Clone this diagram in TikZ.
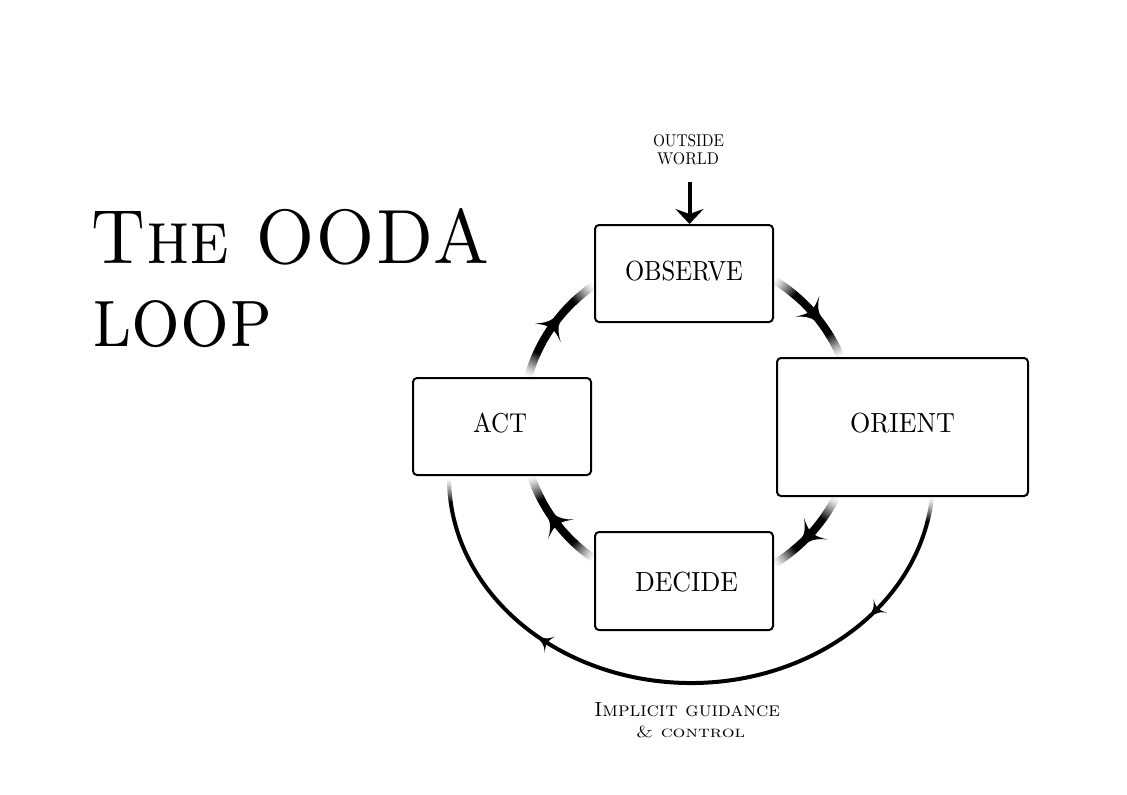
\documentclass[tikz,border=0pt]{standalone}
\usepackage{graphicx}
\usetikzlibrary{arrows.meta}
\newcommand\fadearc[6]{%
  \foreach \k in {0,...,15}{%
    \pgfmathsetmacro\angA{#1+#3*\k/16}%
    \pgfmathsetmacro\angB{#1+#3*(\k+1)/16+0.15}%
    \pgfmathsetmacro\angC{#2-#3*\k/16}%
    \pgfmathsetmacro\angD{#2-#3*(\k+1)/16-0.15}%
    \pgfmathsetmacro\pcF{100*((\k+0.5)/16)^1.3}%
    \draw[#6, draw=black!\pcF] (\angA:#4 and #5) arc[start angle=\angA, end angle=\angB, x radius=#4, y radius=#5];
    \draw[#6, draw=black!\pcF] (\angC:#4 and #5) arc[start angle=\angC, end angle=\angD, x radius=#4, y radius=#5];
  }%
  \pgfmathsetmacro\angA{#1+#3}\pgfmathsetmacro\angB{#2-#3}%
  \draw[#6] (\angA:#4 and #5) arc[start angle=\angA, end angle=\angB, x radius=#4, y radius=#5];
}
\newcommand\tipat[4]{%
  \pgfmathsetmacro\rotT{atan2(-(#3)*cos(#1), -(#2)*sin(#1))}%
  \fill[black, shift={(#1:#2 and #3)}, rotate=\rotT, scale=#4]
    (7,0) -- (7,3.5) .. controls (1,5) and (-4,9) .. (-9,16)
    .. controls (-6,10) and (-4,6) .. (-4,3.5) -- (-4,-3.5)
    .. controls (-4,-6) and (-6,-10) .. (-9,-16)
    .. controls (-4,-9) and (1,-5) .. (7,-3.5) -- cycle;
}
\begin{document}
\begin{tikzpicture}[x=1pt,y=-1pt,
  box/.style={draw, line width=2pt, rounded corners=4pt, fill=white, inner sep=0pt},
  lbl/.style={anchor=base, inner sep=0pt},
  ringline/.style={line width=8pt},
  loopline/.style={line width=4pt}]
\useasboundingbox (0,0) rectangle (1127,795);

% title
\node[anchor=base west, inner sep=0pt] (t1) at (90,263) {\resizebox{400pt}{55pt}{\textsc{The OODA}}};
\node[anchor=base west, inner sep=0pt] (t2) at (92,346) {\resizebox{180pt}{46pt}{\textsc{loop}}};

% inner ring
\begin{scope}[shift={(688,422)}]
  \fadearc{-58.8}{-23}{9}{166}{166}{ringline}
  \fadearc{26.9}{58.8}{9}{166}{166}{ringline}
  \fadearc{124.5}{161}{9}{166}{166}{ringline}
  \fadearc{195.7}{235.5}{9}{166}{166}{ringline}
  \tipat{-41}{166}{166}{1}
  \tipat{43}{166}{166}{1}
  \tipat{143}{166}{166}{1}
  \tipat{215.6}{166}{166}{1}
\end{scope}

% outer loop
\begin{scope}[shift={(691,478)}]
  \fadearc{5.3}{180}{7}{242}{205}{loopline}
  \tipat{40}{242}{205}{0.6}
  \tipat{127}{242}{205}{0.6}
\end{scope}

% boxes
\node[box, minimum width=178pt, minimum height=97pt] (obs) at (684,273.5) {};
\node[box, minimum width=251pt, minimum height=138pt] (ori) at (902.5,427) {};
\node[box, minimum width=178pt, minimum height=97pt] (act) at (502,426.5) {};
\node[box, minimum width=178pt, minimum height=98pt] (dec) at (684,581) {};

% labels
\node[lbl] (obsL) at (684,280) {\resizebox{118pt}{19.5pt}{OBSERVE}};
\node[lbl] (oriL) at (902.5,432) {\resizebox{105pt}{19.5pt}{ORIENT}};
\node[lbl] (actL) at (500,432) {\resizebox{54pt}{19.5pt}{ACT}};
\node[lbl] (decL) at (686.5,591) {\resizebox{103pt}{19.5pt}{DECIDE}};

% outside world
\node[lbl] (ow1) at (688.5,146) {\resizebox{71pt}{12pt}{OUTSIDE}};
\node[lbl] (ow2) at (688,164) {\resizebox{62pt}{12pt}{WORLD}};
\coordinate (owTop) at (689.5,182);
\draw[line width=4pt, -{Stealth[length=15pt,width=28pt,inset=5pt]}] (owTop) -- (owTop |- obs.north);

% implicit guidance
\node[lbl] (ig1) at (687,716) {\resizebox{186pt}{14pt}{\textsc{Implicit guidance}}};
\node[lbl] (ig2) at (690.5,737) {\resizebox{109pt}{11.5pt}{\textsc{\& control}}};
\end{tikzpicture}
\end{document}
